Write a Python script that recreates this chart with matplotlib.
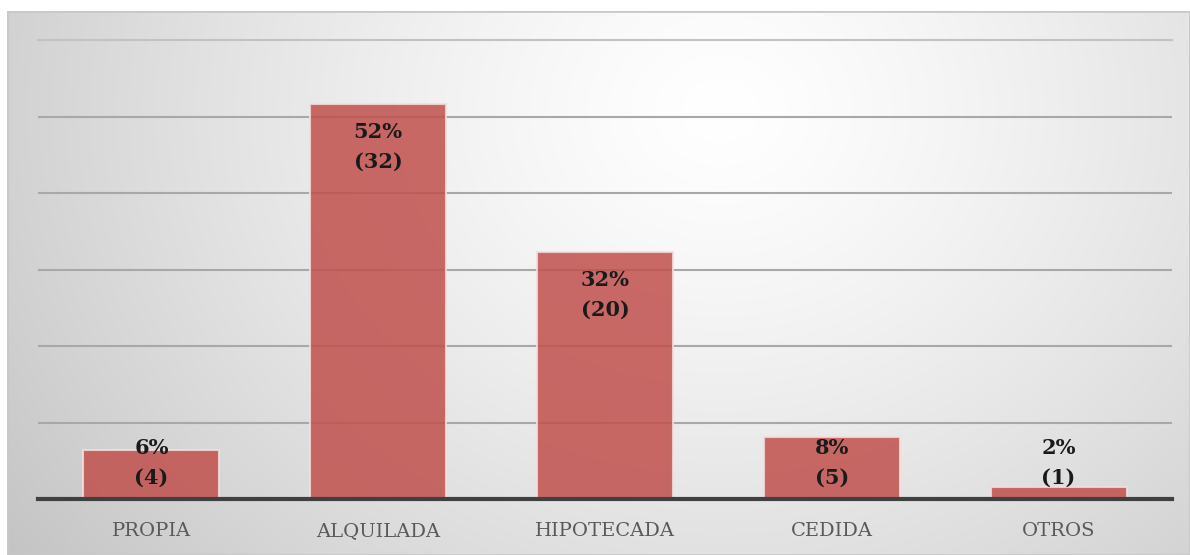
import numpy as np
import matplotlib.pyplot as plt

categories = ["PROPIA", "ALQUILADA", "HIPOTECADA", "CEDIDA", "OTROS"]
percent = [6.45, 51.6, 32.3, 8.06, 1.61]
counts = [4, 32, 20, 5, 1]
pct_labels = ["6%", "52%", "32%", "8%", "2%"]

W, H = 1190, 555
fig = plt.figure(figsize=(W / 100, H / 100), dpi=100)
fig.patch.set_facecolor("white")

# radial gradient background of the chart frame
bg = fig.add_axes([7 / W, 0, (W - 7) / W, (H - 11) / H])
yy, xx = np.mgrid[11:H, 7:W]
d = np.sqrt(((xx - 720) / 1.0) ** 2 + ((yy - 110) / 0.85) ** 2)
g = 1.0 - 0.22 * np.clip(d / 850, 0, 1.2) ** 1.3
img = np.dstack([g, g, g])
bg.imshow(img, aspect="auto", interpolation="bilinear")
bg.set_axis_off()
bg.add_patch(plt.Rectangle((0, 0), 1, 1, transform=bg.transAxes, fill=False,
                           edgecolor="#c8c8c8", linewidth=2))

ax = fig.add_axes([38 / W, (H - 499) / H, (1172 - 38) / W, (499 - 40) / H])
ax.set_facecolor("none")
x = np.arange(len(categories))
ax.bar(x, percent, width=0.6, color="#C0504D", alpha=0.85,
       edgecolor="#f4dede", linewidth=1.5, zorder=3)

ax.set_xlim(-0.5, len(categories) - 0.5)
ax.set_ylim(0, 60)
ax.set_yticks(np.arange(10, 51, 10))
ax.yaxis.grid(True, color="#a8a8a8", linewidth=1.5, zorder=0)
ax.axhline(60, color="#c2c2c2", linewidth=1.5, zorder=0, clip_on=False)
ax.set_axisbelow(True)
ax.tick_params(axis="y", left=False, labelleft=False)
ax.tick_params(axis="x", bottom=False, pad=13)
ax.set_xticks(x)
ax.set_xticklabels(categories, fontfamily="DejaVu Serif", fontsize=14,
                   color="#595959")
for s in ["top", "right", "left"]:
    ax.spines[s].set_visible(False)
ax.spines["bottom"].set_color("#404040")
ax.spines["bottom"].set_linewidth(3)
ax.spines["bottom"].set_zorder(4)

for xi, v, p, c in zip(x, percent, pct_labels, counts):
    ty = max(v - 5.6, 4.7)
    ax.text(xi, ty, f"{p}\n({c})", ha="center", va="center",
            fontfamily="DejaVu Serif", fontweight="bold", fontsize=15,
            color="#1a1a1a", linespacing=1.6, zorder=5)

fig.savefig("out.png", dpi=100)
